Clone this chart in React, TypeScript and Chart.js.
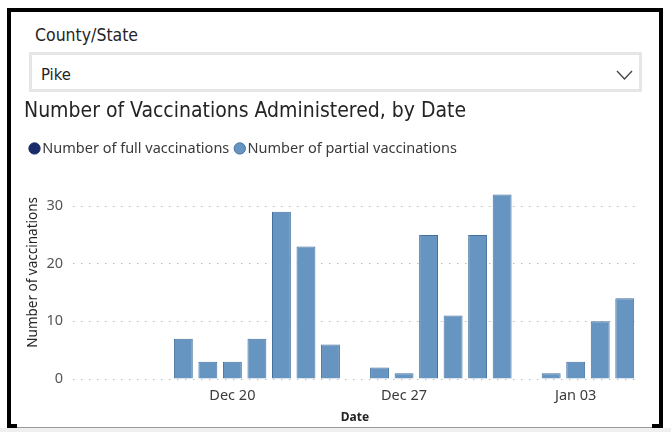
import React, { useEffect, useRef } from "react";
import { Chart, registerables } from "chart.js";

Chart.register(...registerables);

const dates = [
  "Dec 14", "Dec 15", "Dec 16", "Dec 17", "Dec 18", "Dec 19", "Dec 20", "Dec 21",
  "Dec 22", "Dec 23", "Dec 24", "Dec 25", "Dec 26", "Dec 27", "Dec 28", "Dec 29",
  "Dec 30", "Dec 31", "Jan 01", "Jan 02", "Jan 03", "Jan 04", "Jan 05",
];
const partialVaccinations = [
  null, null, null, null, 7, 3, 3, 7,
  29, 23, 6, null, 2, 1, 25, 11,
  25, 32, null, 1, 3, 10, 14,
];
const fullVaccinations = [
  null, null, null, null, null, null, null, null,
  null, null, null, null, null, null, null, null,
  null, null, null, null, null, null, null,
];
const xTickLabels = ["Dec 20", "Dec 27", "Jan 03"];
const yTicks = [0, 10, 20, 30];

function VaccChart() {
  const ref = useRef<HTMLCanvasElement | null>(null);
  useEffect(() => {
    if (!ref.current) return;
    const chart = new Chart(ref.current, {
      type: "bar",
      data: {
        labels: dates,
        datasets: [
          {
            label: "Number of full vaccinations",
            data: fullVaccinations,
            backgroundColor: "#1b2a68",
            borderColor: "#1b2a68",
            borderWidth: 1,
            stack: "s",
          },
          {
            label: "Number of partial vaccinations",
            data: partialVaccinations,
            backgroundColor: "#6795c1",
            borderColor: "#44729e",
            borderWidth: 1,
            stack: "s",
          },
        ],
      },
      options: {
        responsive: false,
        animation: false,
        layout: { padding: { left: 24, right: 34, top: 0, bottom: 3 } },
        datasets: { bar: { barPercentage: 0.77, categoryPercentage: 1 } },
        plugins: {
          title: {
            display: true,
            text: "Number of Vaccinations Administered, by Date",
            align: "start",
            color: "#252423",
            font: { family: "'DejaVu Sans Condensed', sans-serif", size: 21, weight: "normal" },
            padding: { top: 4, bottom: 7 },
          },
          legend: {
            display: true,
            align: "start",
            labels: {
              usePointStyle: true,
              pointStyle: "circle",
              boxWidth: 1,
              boxHeight: 8,
              padding: 10,
              color: "#3a3a3a",
              font: { family: "'Noto Sans', sans-serif", size: 14.5 },
            },
          },
          tooltip: { enabled: false },
        },
        scales: {
          x: {
            stacked: true,
            afterFit: (s: any) => {
              s.height = 45;
            },
            grid: { display: false },
            border: { display: false },
            ticks: {
              autoSkip: false,
              maxRotation: 0,
              padding: 0,
              color: "#3a3a3a",
              font: { family: "'Noto Sans', sans-serif", size: 14.5 },
              callback: (_v: any, index: number) =>
                xTickLabels.includes(dates[index]) ? dates[index] : "",
            },
            title: {
              display: true,
              text: "Date",
              color: "#252423",
              font: { family: "'Noto Sans', sans-serif", size: 12, weight: "bold" },
              padding: { top: 0, bottom: -1 },
            },
          },
          y: {
            stacked: true,
            min: 0,
            max: 37,
            afterBuildTicks: (s: any) => {
              s.ticks = yTicks.map((v) => ({ value: v }));
            },
            afterFit: (s: any) => {
              s.width = 49;
            },
            grid: { color: "#bdbdbd", lineWidth: 1, drawTicks: false },
            border: { display: false, dash: [1.5, 6.5] },
            ticks: {
              padding: 10,
              color: "#555555",
              font: { family: "'Noto Sans', sans-serif", size: 14.5 },
            },
            title: {
              display: true,
              text: "Number of vaccinations",
              color: "#252423",
              font: { family: "'Noto Sans', sans-serif", size: 13.5 },
              padding: { top: 1, bottom: 2 },
            },
          },
        },
      },
    } as any);
    return () => chart.destroy();
  }, []);
  return (
    <canvas
      ref={ref}
      width={671}
      height={332}
      style={{ position: "absolute", left: 0, top: 95, width: 671, height: 332 }}
    />
  );
}

export default function App() {
  return (
    <div
      style={{
        position: "fixed",
        left: 0,
        top: 0,
        width: 671,
        height: 432,
        background: "#ffffff",
        overflow: "hidden",
        fontFamily: "'Noto Sans', sans-serif",
      }}
    >
      <div style={{ position: "absolute", left: 0, top: 428, width: 671, height: 4, background: "#efefef" }} />
      <div style={{ position: "absolute", left: 7, top: 8, width: 4, height: 420, background: "#000" }} />
      <div style={{ position: "absolute", left: 7, top: 8, width: 656, height: 4, background: "#000" }} />
      <div style={{ position: "absolute", left: 659, top: 8, width: 4, height: 420, background: "#000" }} />
      <div style={{ position: "absolute", left: 7, top: 427, width: 656, height: 1, background: "#9a9a9a" }} />
      <div style={{ position: "absolute", left: 7, top: 424, width: 10, height: 4, background: "#000" }} />
      <div style={{ position: "absolute", left: 652, top: 424, width: 11, height: 4, background: "#000" }} />

      <div
        style={{
          position: "absolute",
          left: 35,
          top: 23,
          fontSize: 17.5,
          color: "#252423",
          fontFamily: "'DejaVu Sans Condensed', sans-serif",
          lineHeight: "24px",
        }}
      >
        County/State
      </div>
      <div
        style={{
          position: "absolute",
          left: 29,
          top: 52,
          width: 607,
          height: 34,
          border: "3px solid #e6e6e6",
          background: "#fff",
        }}
      >
        <div
          style={{
            position: "absolute",
            left: 9,
            top: 9,
            fontSize: 16.5,
            color: "#252423",
            fontFamily: "'DejaVu Sans Condensed', sans-serif",
            lineHeight: "22px",
          }}
        >
          Pike
        </div>
        <svg width={18} height={12} style={{ position: "absolute", left: 584, top: 14 }}>
          <polyline points="1,2 8.5,10 16,2" fill="none" stroke="#444" strokeWidth={1.3} />
        </svg>
      </div>
      <VaccChart />
    </div>
  );
}
